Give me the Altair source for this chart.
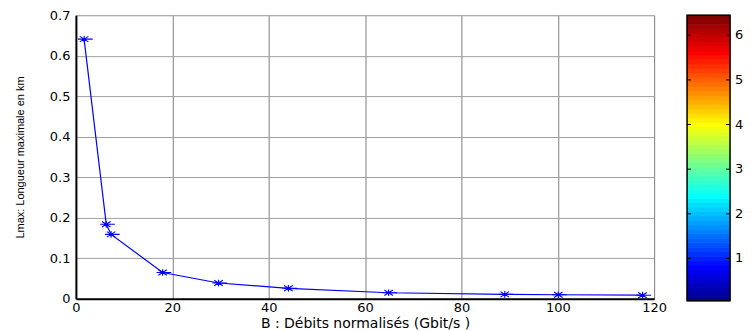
import altair as alt
import pandas as pd

# Data
debits = [1.7, 6.3, 7.3, 18.0, 29.6, 44.1, 64.9, 89.0, 100.1, 117.6]
lmax = [0.641, 0.184, 0.159, 0.065, 0.039, 0.026, 0.015, 0.011, 0.010, 0.009]

x_ticks = [0, 20, 40, 60, 80, 100, 120]
y_ticks = [0, 0.1, 0.2, 0.3, 0.4, 0.5, 0.6, 0.7]
cbar_levels = list(range(1, 65))
cbar_ticks = [10, 20, 30, 40, 50, 60]
cbar_range = [0.5, 64.5]

df = pd.DataFrame({"B": debits, "L": lmax})
cb = pd.DataFrame({"v": cbar_levels})
cb["v0"] = cb["v"] - 0.5
cb["v1"] = cb["v"] + 0.5
cbt = pd.DataFrame({"t": cbar_ticks})
cbf = pd.DataFrame({"lo": [cbar_range[0]], "hi": [cbar_range[1]]})

FONT = "DejaVu Sans"
star = "M-1,0L1.4,0M0,-0.55L0,0.55M-0.7,-0.45L0.7,0.45M-0.7,0.45L0.7,-0.45"

xs = alt.Scale(domain=[0, 120], nice=False, zero=False)
ys = alt.Scale(domain=[0, 0.7], nice=False)

xax = alt.Axis(values=x_ticks, title="B : Débits normalisés (Gbit/s )", format="d",
               grid=True, gridColor="#808080", gridWidth=1, ticks=False,
               domainColor="black", domainWidth=2, labelFont=FONT, labelFontSize=13,
               labelColor="black", labelPadding=3, labelFlush=False,
               titleFont=FONT, titleFontSize=14, titleFontWeight="normal",
               titleColor="black", titlePadding=2)
yax = alt.Axis(values=y_ticks, title="Lmax: Longueur maximale en km", format=".1~f",
               grid=True, gridColor="#a0a0a0", gridWidth=1, ticks=False,
               domainColor="black", domainWidth=2, labelFont=FONT, labelFontSize=13,
               labelColor="black", labelPadding=6, labelFlush=False,
               labelExpr="datum.value == 0 ? '0' : datum.label",
               titleFont="Liberation Sans", titleFontSize=11, titleFontWeight="normal",
               titleColor="black", titlePadding=24)

base = alt.Chart(df).encode(
    x=alt.X("B:Q", scale=xs, axis=xax),
    y=alt.Y("L:Q", scale=ys, axis=yax),
)
line = base.mark_line(color="#0000ff", strokeWidth=1.2)
pts = base.mark_point(shape=star, size=150, filled=False, color="#0000ff",
                      strokeWidth=1.1, opacity=1)
main = (line + pts).properties(width=579, height=284)

cys = alt.Scale(domain=cbar_range, nice=False, zero=False)
jet = alt.Scale(domain=[1, 8, 24, 40, 56, 64],
                range=["#00008f", "#0000ff", "#00ffff", "#ffff00", "#ff0000", "#800000"],
                interpolate="rgb")
bar = alt.Chart(cb).mark_rect(strokeWidth=0.8).encode(
    x=alt.value(0), x2=alt.value(43),
    y=alt.Y("v0:Q", scale=cys, axis=None),
    y2="v1:Q",
    color=alt.Color("v:Q", scale=jet, legend=None),
    stroke=alt.Stroke("v:Q", scale=jet, legend=None),
)
frame = alt.Chart(cbf).mark_rect(fill=None, stroke="black", strokeWidth=1.5).encode(
    x=alt.value(0), x2=alt.value(43),
    y=alt.Y("lo:Q", scale=cys, axis=None), y2="hi:Q")
tl = alt.Chart(cbt).mark_rule(color="black", strokeWidth=1).encode(
    x=alt.value(0), x2=alt.value(4), y=alt.Y("t:Q", scale=cys, axis=None))
tr = alt.Chart(cbt).mark_rule(color="black", strokeWidth=1).encode(
    x=alt.value(39), x2=alt.value(43), y=alt.Y("t:Q", scale=cys, axis=None))
lab = alt.Chart(cbt).mark_text(align="left", baseline="middle", font=FONT,
                               fontSize=13, color="black", clip=True).encode(
    x=alt.value(48), y=alt.Y("t:Q", scale=cys, axis=None), text=alt.Text("t:Q"))
cbar = (bar + frame + tl + tr + lab).properties(
    width=57, height=286, view=alt.ViewBackground(stroke=None))

chart = alt.hconcat(main, cbar, spacing=33, bounds="flush").properties(
    padding={"left": 5, "top": 0, "right": 0, "bottom": 0}
).configure_view(stroke="black", strokeWidth=1).configure(background="white")

chart.save("out.html", embed_options={"renderer": "svg", "actions": False})
